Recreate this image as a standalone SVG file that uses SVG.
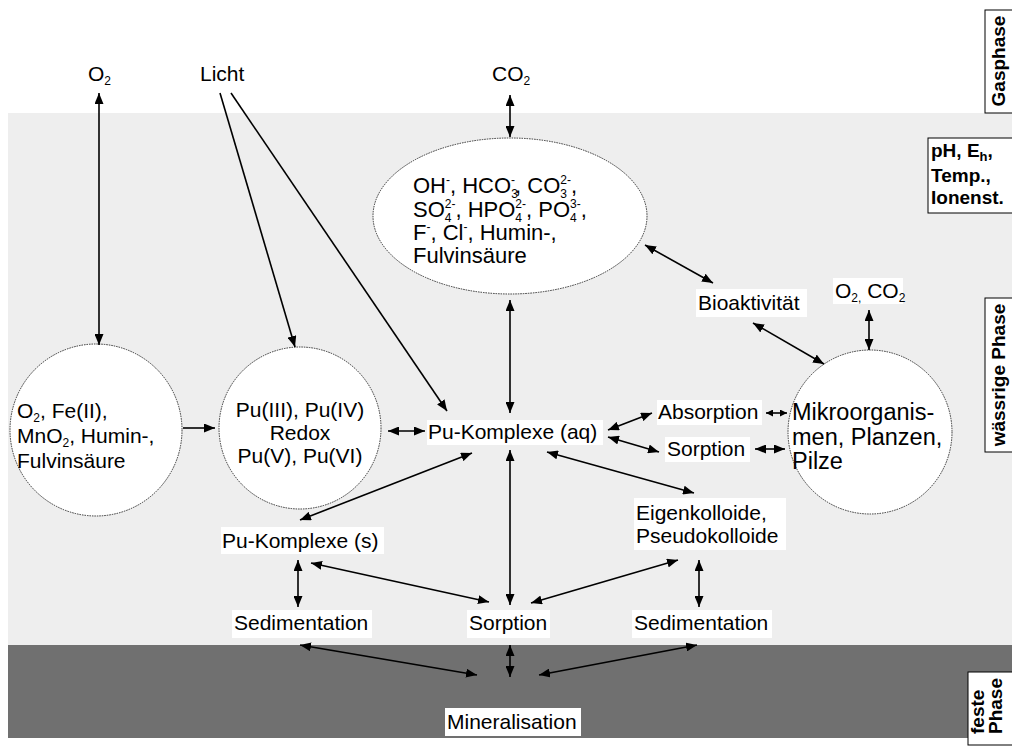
<svg xmlns="http://www.w3.org/2000/svg" width="1012" height="752" viewBox="0 0 1012 752">
<style>
text{font-family:"Liberation Sans",Arial,sans-serif;font-size:21px;fill:#000}
.b{font-weight:bold;font-size:19px}
.s{font-size:12px}
.big{font-size:22px}
.mk{font-size:23.5px}
.lbl{fill:#fff}
.node{fill:#fff;stroke:#333;stroke-width:1;stroke-dasharray:1.5 1}
.box{fill:#fff;stroke:#000;stroke-width:1}
.c line{stroke:#000;stroke-width:1.6;fill:none}
.d{marker-start:url(#ah);marker-end:url(#ah)}
.e{marker-end:url(#ah)}
.k{marker-start:url(#sh);marker-end:url(#sh)}
</style>
<defs>
<marker id="ah" markerUnits="userSpaceOnUse" markerWidth="11" markerHeight="9" refX="11" refY="4.5" orient="auto-start-reverse"><path d="M0,0 L11,4.5 L0,9 z" fill="#000"/></marker>
<marker id="sh" markerUnits="userSpaceOnUse" markerWidth="7" markerHeight="7" refX="7" refY="3.5" orient="auto-start-reverse"><path d="M0,0 L7,3.5 L0,7 z" fill="#000"/></marker>
</defs>
<rect x="0" y="0" width="1012" height="752" fill="#fff"/>
<rect x="8" y="113" width="1004" height="532" fill="#eeeeee"/>
<rect x="8" y="645" width="1004" height="93" fill="#707070"/>

<g id="gasphase"><rect class="box" x="985" y="10" width="30" height="103"/><text class="b" transform="translate(1005,61) rotate(-90)" text-anchor="middle">Gasphase</text></g>
<g id="params"><rect class="box" x="928" y="138" width="90" height="75"/>
<text class="b" x="931" y="157">pH, E<tspan style="font-size:13px" dy="4">h</tspan><tspan dy="-4">,</tspan></text>
<text class="b" x="931" y="182">Temp.,</text>
<text class="b" x="931" y="204">Ionenst.</text></g>
<g id="waessrig"><rect class="box" x="985" y="298" width="30" height="154"/><text class="b" transform="translate(1005,375) rotate(-90)" text-anchor="middle">wässrige Phase</text></g>
<g id="fest"><rect class="box" x="968" y="672" width="50" height="73"/><text class="b" transform="translate(984,734) rotate(-90)">feste</text><text class="b" transform="translate(1002,734) rotate(-90)">Phase</text></g>

<g id="O2top"><text x="88" y="81">O<tspan class="s" dy="4">2</tspan></text></g>
<g id="licht"><text x="200" y="81">Licht</text></g>
<g id="CO2top"><text x="492" y="81">CO<tspan class="s" dy="4">2</tspan></text></g>

<g id="anionen"><ellipse class="node" cx="510" cy="216" rx="137" ry="78"/>
<text class="big" x="413" y="193">OH<tspan class="s" dy="-9">-</tspan><tspan dy="9">, HCO</tspan><tspan class="s" dy="5">3</tspan><tspan class="s" dx="-6.7" dy="-14">-</tspan><tspan dy="9">, CO</tspan><tspan class="s" dy="5">3</tspan><tspan class="s" dx="-6.7" dy="-14">2-</tspan><tspan dy="9">,</tspan></text>
<text class="big" x="413" y="217">SO<tspan class="s" dy="5">4</tspan><tspan class="s" dx="-6.7" dy="-14">2-</tspan><tspan dy="9">, HPO</tspan><tspan class="s" dy="5">4</tspan><tspan class="s" dx="-6.7" dy="-14">2-</tspan><tspan dy="9">, PO</tspan><tspan class="s" dy="5">4</tspan><tspan class="s" dx="-6.7" dy="-14">3-</tspan><tspan dy="9">,</tspan></text>
<text class="big" x="413" y="240">F<tspan class="s" dy="-9">-</tspan><tspan dy="9">, Cl</tspan><tspan class="s" dy="-9">-</tspan><tspan dy="9">, Humin-,</tspan></text>
<text class="big" x="413" y="263">Fulvinsäure</text></g>

<g id="oxid"><circle class="node" cx="96" cy="430" r="86"/>
<text x="17" y="418">O<tspan class="s" dy="4">2</tspan><tspan dy="-4">, Fe(II),</tspan></text>
<text x="17" y="443">MnO<tspan class="s" dy="4">2</tspan><tspan dy="-4">, Humin-,</tspan></text>
<text x="17" y="468">Fulvinsäure</text></g>

<g id="redox"><circle class="node" cx="300" cy="428" r="81"/>
<text x="300" y="417" text-anchor="middle">Pu(III), Pu(IV)</text>
<text x="300" y="440" text-anchor="middle">Redox</text>
<text x="300" y="463" text-anchor="middle">Pu(V), Pu(VI)</text></g>

<g id="puaq"><rect class="lbl" x="427" y="420" width="176" height="25"/><text x="428" y="439">Pu-Komplexe (aq)</text></g>
<g id="bio"><rect class="lbl" x="696" y="289" width="111" height="28"/><text x="698" y="310">Bioaktivität</text></g>
<g id="o2co2"><rect class="lbl" x="833" y="278" width="70" height="26"/><text x="835" y="298">O<tspan class="s" dy="4">2,</tspan><tspan dy="-4"> CO</tspan><tspan class="s" dy="4">2</tspan></text></g>
<g id="absorption"><rect class="lbl" x="657" y="400" width="105" height="25"/><text x="658" y="419">Absorption</text></g>
<g id="sorption1"><rect class="lbl" x="665" y="437" width="85" height="25"/><text x="667" y="456">Sorption</text></g>
<g id="mikro"><circle class="node" cx="870" cy="432" r="82"/>
<text class="mk" x="792" y="420">Mikroorganis-</text>
<text class="mk" x="792" y="445">men, Planzen,</text>
<text class="mk" x="792" y="469">Pilze</text></g>

<g id="pus"><rect class="lbl" x="221" y="527" width="163" height="27"/><text x="222" y="548">Pu-Komplexe (s)</text></g>
<g id="eigen"><rect class="lbl" x="634" y="498" width="152" height="52"/><text x="636" y="520">Eigenkolloide,</text><text x="636" y="543">Pseudokolloide</text></g>
<g id="sed1"><rect class="lbl" x="232" y="610" width="140" height="28"/><text x="234" y="630">Sedimentation</text></g>
<g id="sorption2"><rect class="lbl" x="467" y="610" width="83" height="28"/><text x="469" y="630">Sorption</text></g>
<g id="sed2"><rect class="lbl" x="632" y="610" width="140" height="28"/><text x="634" y="630">Sedimentation</text></g>
<g id="mineral"><rect class="lbl" x="445" y="708" width="136" height="28"/><text x="447" y="729">Mineralisation</text></g>

<g class="c" id="connectors">
<line class="d" x1="99" y1="93" x2="99" y2="345"/>
<line class="e" x1="220" y1="93" x2="295" y2="347"/>
<line class="e" x1="231" y1="93" x2="447" y2="411"/>
<line class="d" x1="510" y1="95" x2="510" y2="137"/>
<line class="d" x1="510" y1="300" x2="510" y2="413"/>
<line class="d" x1="645" y1="245" x2="713" y2="283"/>
<line class="d" x1="753" y1="323" x2="824" y2="364"/>
<line class="d" x1="869" y1="310" x2="869" y2="350"/>
<line class="e" x1="183" y1="428" x2="215" y2="428"/>
<line class="d" x1="388" y1="431" x2="425" y2="431"/>
<line class="d" x1="608" y1="430" x2="652" y2="413"/>
<line class="d" x1="608" y1="437" x2="659" y2="452"/>
<line class="k" x1="766" y1="413" x2="787" y2="413"/>
<line class="d" x1="755" y1="449" x2="785" y2="449"/>
<line class="d" x1="472" y1="453" x2="300" y2="520"/>
<line class="d" x1="547" y1="452" x2="694" y2="493"/>
<line class="d" x1="510" y1="450" x2="510" y2="605"/>
<line class="d" x1="298" y1="560" x2="298" y2="607"/>
<line class="d" x1="311" y1="563" x2="489" y2="602"/>
<line class="d" x1="531" y1="603" x2="678" y2="560"/>
<line class="d" x1="699" y1="560" x2="699" y2="607"/>
<line class="d" x1="300" y1="645" x2="477" y2="675"/>
<line class="d" x1="510" y1="645" x2="510" y2="677"/>
<line class="d" x1="697" y1="645" x2="539" y2="675"/>
</g>
</svg>
